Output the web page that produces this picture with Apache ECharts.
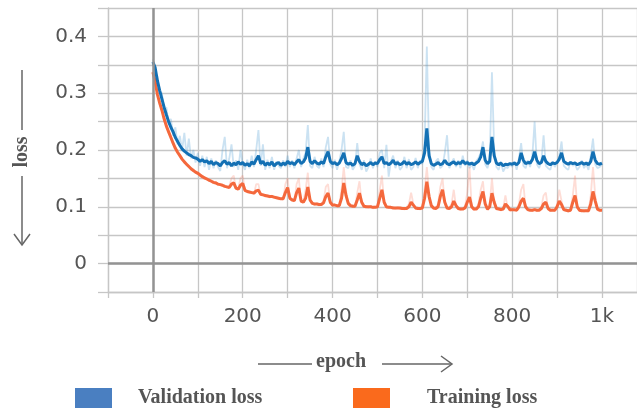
<!DOCTYPE html>
<html>
<head>
<meta charset="utf-8">
<script src="https://cdn.jsdelivr.net/npm/echarts@6/dist/echarts.min.js"></script>
<style>html,body{margin:0;padding:0;background:#fff}#c{width:637px;height:411px}</style>
</head>
<body>
<div id="c"></div>
<script>
// sampling step (epochs) of the recorded curves
const STEP = 5;
// Validation loss, smoothed (epochs 0..1000 every 5)
const valSmooth = [
0.355,0.345,0.322,0.305,0.29,0.275,0.262,0.25,0.24,0.232,0.222,0.215,0.208,0.202,0.198,0.195,0.192,0.19,0.187,0.186,
0.184,0.18,0.183,0.179,0.181,0.176,0.18,0.174,0.178,0.176,0.172,0.178,0.181,0.175,0.178,0.172,0.177,0.174,0.179,0.175,
0.178,0.173,0.176,0.172,0.179,0.175,0.183,0.19,0.176,0.18,0.173,0.177,0.174,0.179,0.172,0.176,0.178,0.173,0.177,0.174,
0.18,0.176,0.178,0.174,0.179,0.183,0.176,0.179,0.186,0.205,0.18,0.176,0.181,0.177,0.175,0.179,0.176,0.188,0.197,0.18,
0.176,0.178,0.174,0.177,0.185,0.195,0.178,0.175,0.177,0.173,0.176,0.19,0.18,0.174,0.177,0.172,0.175,0.178,0.174,0.177,
0.176,0.183,0.188,0.176,0.178,0.174,0.177,0.182,0.175,0.178,0.174,0.176,0.18,0.175,0.178,0.174,0.176,0.179,0.175,0.178,
0.18,0.195,0.238,0.19,0.176,0.173,0.175,0.178,0.174,0.176,0.182,0.176,0.174,0.177,0.179,0.175,0.178,0.176,0.181,0.176,
0.178,0.175,0.177,0.174,0.177,0.18,0.188,0.205,0.182,0.176,0.18,0.223,0.19,0.177,0.174,0.177,0.172,0.175,0.174,0.176,
0.175,0.177,0.174,0.178,0.195,0.182,0.176,0.178,0.177,0.183,0.197,0.182,0.176,0.178,0.19,0.18,0.176,0.174,0.177,0.176,
0.178,0.184,0.195,0.18,0.177,0.175,0.178,0.176,0.177,0.174,0.176,0.178,0.175,0.177,0.174,0.18,0.197,0.182,0.176,0.175,0.177
];
// Validation loss, raw
const valRaw = [
0.36,0.335,0.33,0.3,0.3,0.27,0.275,0.245,0.255,0.225,0.24,0.21,0.225,0.2,0.23,0.19,0.22,0.185,0.2,0.178,
0.195,0.172,0.19,0.17,0.188,0.165,0.185,0.168,0.182,0.17,0.163,0.2,0.223,0.168,0.185,0.21,0.17,0.182,0.165,0.2,
0.175,0.165,0.183,0.168,0.19,0.17,0.2,0.235,0.172,0.21,0.165,0.183,0.168,0.188,0.165,0.18,0.172,0.168,0.182,0.17,
0.19,0.17,0.182,0.168,0.185,0.2,0.17,0.185,0.195,0.244,0.172,0.168,0.188,0.172,0.168,0.185,0.17,0.205,0.223,0.175,
0.168,0.183,0.165,0.18,0.2,0.232,0.17,0.168,0.182,0.165,0.172,0.212,0.175,0.165,0.182,0.162,0.17,0.185,0.168,0.18,
0.17,0.195,0.2,0.168,0.209,0.153,0.18,0.19,0.168,0.182,0.165,0.17,0.188,0.168,0.184,0.165,0.17,0.186,0.168,0.182,
0.175,0.21,0.382,0.2,0.17,0.165,0.18,0.185,0.168,0.172,0.195,0.226,0.168,0.178,0.185,0.17,0.182,0.168,0.19,0.172,
0.182,0.168,0.175,0.165,0.18,0.186,0.195,0.215,0.175,0.168,0.185,0.337,0.2,0.17,0.165,0.18,0.162,0.17,0.168,0.175,
0.17,0.18,0.165,0.185,0.212,0.172,0.168,0.182,0.17,0.19,0.25,0.175,0.168,0.18,0.226,0.172,0.168,0.165,0.18,0.17,
0.178,0.19,0.215,0.172,0.168,0.165,0.18,0.172,0.175,0.165,0.17,0.182,0.168,0.175,0.165,0.19,0.22,0.175,0.168,0.17,0.175
];
// Training loss, smoothed
const trainSmooth = [
0.337,0.32,0.298,0.283,0.27,0.255,0.242,0.232,0.222,0.212,0.203,0.196,0.19,0.184,0.179,0.175,0.171,0.167,0.164,0.161,
0.159,0.156,0.153,0.151,0.149,0.147,0.145,0.143,0.142,0.14,0.139,0.138,0.136,0.135,0.134,0.14,0.142,0.133,0.131,0.138,
0.141,0.129,0.127,0.126,0.125,0.124,0.128,0.129,0.122,0.121,0.12,0.119,0.118,0.118,0.117,0.116,0.115,0.114,0.114,0.125,
0.134,0.115,0.112,0.111,0.125,0.133,0.11,0.108,0.115,0.135,0.112,0.106,0.105,0.105,0.104,0.104,0.107,0.118,0.124,0.108,
0.103,0.103,0.102,0.102,0.115,0.142,0.12,0.106,0.102,0.101,0.101,0.112,0.124,0.108,0.101,0.1,0.1,0.1,0.099,0.099,
0.1,0.115,0.13,0.108,0.1,0.099,0.099,0.098,0.098,0.098,0.098,0.097,0.097,0.097,0.1,0.108,0.103,0.098,0.097,0.097,
0.098,0.115,0.144,0.118,0.102,0.098,0.097,0.1,0.118,0.13,0.108,0.098,0.097,0.1,0.11,0.102,0.097,0.096,0.096,0.098,
0.108,0.117,0.1,0.096,0.096,0.1,0.115,0.127,0.105,0.096,0.1,0.124,0.108,0.097,0.096,0.095,0.096,0.105,0.101,0.095,
0.095,0.095,0.094,0.1,0.11,0.115,0.1,0.095,0.094,0.094,0.095,0.094,0.094,0.097,0.105,0.108,0.097,0.094,0.094,0.094,
0.1,0.11,0.104,0.095,0.094,0.093,0.094,0.108,0.12,0.1,0.094,0.093,0.093,0.093,0.093,0.105,0.127,0.11,0.096,0.094,0.094
];
// Training loss, raw
const trainRaw = [
0.34,0.318,0.3,0.28,0.272,0.252,0.245,0.23,0.224,0.21,0.205,0.194,0.192,0.182,0.181,0.173,0.173,0.165,0.166,0.159,
0.161,0.154,0.155,0.149,0.151,0.145,0.147,0.141,0.144,0.138,0.141,0.136,0.138,0.133,0.136,0.15,0.155,0.131,0.133,0.15,
0.155,0.127,0.129,0.124,0.127,0.122,0.14,0.14,0.12,0.123,0.118,0.121,0.116,0.12,0.115,0.118,0.113,0.116,0.112,0.14,
0.15,0.113,0.114,0.109,0.14,0.15,0.108,0.11,0.13,0.16,0.11,0.108,0.103,0.107,0.102,0.106,0.11,0.135,0.14,0.106,
0.101,0.105,0.1,0.104,0.13,0.17,0.13,0.104,0.1,0.103,0.099,0.125,0.145,0.106,0.099,0.102,0.098,0.102,0.097,0.101,
0.098,0.13,0.155,0.106,0.098,0.101,0.097,0.1,0.096,0.1,0.096,0.099,0.095,0.099,0.105,0.125,0.105,0.096,0.099,0.095,
0.1,0.13,0.17,0.125,0.1,0.096,0.099,0.105,0.135,0.15,0.106,0.096,0.099,0.105,0.13,0.1,0.099,0.094,0.098,0.1,
0.125,0.17,0.098,0.094,0.098,0.105,0.13,0.145,0.103,0.094,0.105,0.15,0.106,0.095,0.098,0.093,0.098,0.12,0.099,0.093,
0.097,0.093,0.096,0.105,0.13,0.14,0.098,0.093,0.096,0.092,0.097,0.092,0.096,0.1,0.12,0.125,0.095,0.092,0.096,0.092,
0.105,0.13,0.11,0.093,0.096,0.091,0.096,0.12,0.155,0.098,0.092,0.095,0.091,0.095,0.091,0.12,0.17,0.12,0.094,0.092,0.096
];
const seriesNames = ['Validation loss', 'Training loss'];
const xLabelMap = {0:'0',200:'200',400:'400',600:'600',800:'800',1000:'1k'};
const yLabelMap = {0:'0',10:'0.1',20:'0.2',30:'0.3',40:'0.4'};

function pairs(arr){ return arr.map((v,i)=>[i*STEP, v]); }

const chart = echarts.init(document.getElementById('c'), null, {renderer:'canvas'});
const gridColor = '#c6c6c6';
const labelFont = {fontFamily:'DejaVu Sans', fontSize:20, color:'#555'};
const serifBold = {fontFamily:'Liberation Serif', fontWeight:'bold', fontSize:20, color:'#555'};
chart.setOption({
  animation:false,
  backgroundColor:'#fff',
  grid:{left:108, right:0, top:8, bottom:119},
  xAxis:{
    type:'value', min:-100, max:1078, interval:100,
    axisLine:{show:true, onZero:false, lineStyle:{color:gridColor, width:1.3}},
    axisTick:{show:true, length:6, lineStyle:{color:gridColor, width:1.3}},
    splitLine:{show:true, lineStyle:{color:gridColor, width:1.3}},
    axisLabel:Object.assign({margin:15, showMaxLabel:false, showMinLabel:true,
      formatter:v=>{const k=Math.round(v); return xLabelMap[k]!==undefined? xLabelMap[k] : '';}}, labelFont)
  },
  yAxis:{
    type:'value', min:-0.05, max:0.45, interval:0.05,
    axisLine:{show:true, onZero:false, lineStyle:{color:gridColor, width:1.3}},
    axisTick:{show:true, length:10, lineStyle:{color:gridColor, width:1.3}},
    splitLine:{show:true, lineStyle:{color:gridColor, width:1.3}},
    axisLabel:Object.assign({margin:21,
      formatter:v=>{const k=Math.round(v*100); return yLabelMap[k]!==undefined? yLabelMap[k] : '';}}, labelFont)
  },
  legend:[
    {left:75, top:388, padding:0, itemWidth:37, itemHeight:20, icon:'rect', itemGap:0, selectedMode:false,
     data:[{name:seriesNames[0], itemStyle:{color:'#4a7fc1'}}],
     textStyle:Object.assign({padding:[0,0,0,21]}, serifBold)},
    {left:353, top:388, padding:0, itemWidth:37, itemHeight:20, icon:'rect', itemGap:0, selectedMode:false,
     data:[{name:seriesNames[1], itemStyle:{color:'#fa6a1c'}}],
     textStyle:Object.assign({padding:[0,0,0,32]}, serifBold)}
  ],
  series:[
    {type:'line', name:'zero', data:[], z:1, silent:true,
     markLine:{silent:true, symbol:['none','none'], label:{show:false},
       lineStyle:{color:'#939393', width:2.5, type:'solid'},
       data:[{yAxis:0},{xAxis:0}]}},
    {type:'line', name:'Validation raw', data:pairs(valRaw), showSymbol:false, z:2,
     lineStyle:{color:'rgba(70,150,210,0.28)', width:1.8}},
    {type:'line', name:'Training raw', data:pairs(trainRaw), showSymbol:false, z:2,
     lineStyle:{color:'rgba(250,120,90,0.25)', width:1.8}},
    {type:'line', name:seriesNames[1], data:pairs(trainSmooth), showSymbol:false, z:3,
     itemStyle:{color:'#f4683c'}, lineStyle:{color:'#f4683c', width:3}},
    {type:'line', name:seriesNames[0], data:pairs(valSmooth), showSymbol:false, z:4,
     itemStyle:{color:'#1370b4'}, lineStyle:{color:'#1370b4', width:3}}
  ],
  graphic:[
    {type:'text', x:22, y:152, rotation:Math.PI/2,
     style:{text:'loss', fill:'#555', font:'bold 20px "Liberation Serif"', textAlign:'center', textVerticalAlign:'middle'}},
    {type:'line', shape:{x1:22,y1:70,x2:22,y2:130}, style:{stroke:'#666', lineWidth:1.5}},
    {type:'line', shape:{x1:22,y1:176,x2:22,y2:245}, style:{stroke:'#666', lineWidth:1.5}},
    {type:'polyline', shape:{points:[[14,234],[22,245],[30,234]]}, style:{stroke:'#666', lineWidth:1.5, fill:null}},
    {type:'text', x:341, y:362,
     style:{text:'epoch', fill:'#555', font:'bold 20px "Liberation Serif"', textAlign:'center', textVerticalAlign:'middle'}},
    {type:'line', shape:{x1:258,y1:364,x2:312,y2:364}, style:{stroke:'#666', lineWidth:1.5}},
    {type:'line', shape:{x1:382,y1:364,x2:452,y2:364}, style:{stroke:'#666', lineWidth:1.5}},
    {type:'polyline', shape:{points:[[441,356],[452,364],[441,372]]}, style:{stroke:'#666', lineWidth:1.5, fill:null}}
  ]
});
</script>
</body>
</html>
